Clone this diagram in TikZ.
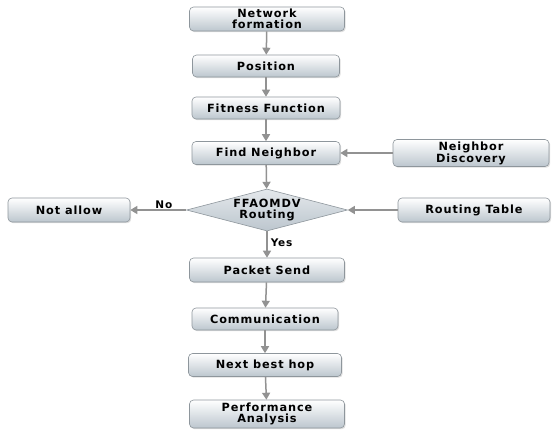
\documentclass[tikz,border=0pt]{standalone}
\usepackage{fontspec}
\setmainfont{DejaVu Sans}
\newfontfamily\boxfont[LetterSpace=8]{DejaVu Sans Bold}
\usetikzlibrary{shapes.geometric,arrows.meta,shadows}
\definecolor{edgegray}{HTML}{929292}
\definecolor{boxtop}{HTML}{FFFFFF}
\definecolor{boxbot}{HTML}{BCC6CE}
\definecolor{boxline}{HTML}{8E969C}
\tikzset{
  stepbox/.style={rectangle, rounded corners=4pt, draw=boxline, line width=0.6pt,
    top color=boxtop, bottom color=boxbot, minimum height=23pt,
    font=\boxfont\fontsize{11.3}{11}\selectfont, align=center, inner sep=1pt,
    drop shadow={shadow xshift=1.2pt, shadow yshift=-1.2pt, opacity=0.25}},
  decbox/.style={diamond, aspect=3.8, draw=boxline, line width=0.6pt,
    top color=boxtop!60!boxbot, bottom color=boxbot, inner sep=0pt,
    font=\boxfont\fontsize{11.3}{11}\selectfont, align=center,
    minimum width=161pt, minimum height=42pt},
  link/.style={draw=edgegray, line width=1.5pt, -{Triangle[length=7pt,width=8pt]}},
  lbl/.style={font=\boxfont\fontsize{10.5}{10}\selectfont, inner sep=1pt}
}
\begin{document}
\begin{tikzpicture}[x=1pt,y=-1pt]
\useasboundingbox (0,0) rectangle (558,434);
\node[stepbox, minimum width=155pt, minimum height=24pt] (nf) at (267,19) {Network\\[0pt]formation};
\node[stepbox, minimum width=147pt, minimum height=22pt] (pos) at (266,66) {Position};
\node[stepbox, minimum width=148pt, minimum height=22pt] (fit) at (266,108) {Fitness Function};
\node[stepbox, minimum width=148pt, minimum height=23pt] (fn) at (266,153) {Find Neighbor};
\node[stepbox, minimum width=156pt, minimum height=27pt] (nd) at (471,153) {Neighbor\\[0pt]Discovery};
\node[decbox] (ff) at (267,210) {FFAOMDV\\[0pt]Routing};
\node[stepbox, minimum width=122pt, minimum height=24pt] (na) at (69,210) {Not allow};
\node[stepbox, minimum width=152pt, minimum height=24pt] (rt) at (474,210) {Routing Table};
\node[stepbox, minimum width=155pt, minimum height=24pt] (ps) at (267,270) {Packet Send};
\node[stepbox, minimum width=146pt, minimum height=22pt] (com) at (265,319) {Communication};
\node[stepbox, minimum width=153pt, minimum height=23pt] (nbh) at (265,365) {Next best hop};
\node[stepbox, minimum width=155pt, minimum height=28pt] (pa) at (267,414) {Performance\\[0pt]Analysis};
\draw[link] (nf) -- (pos);
\draw[link] (pos) -- (fit);
\draw[link] (fit) -- (fn);
\draw[link] (fn) -- (ff);
\draw[link] (nd) -- (fn);
\draw[link] (rt) -- (ff);
\draw[link] (ff) -- node[lbl, above, pos=0.4] {No} (na);
\draw[link] (ff) -- node[lbl, right, pos=0.45, xshift=2pt] {Yes} (ps);
\draw[link] (ps) -- (com);
\draw[link] (com) -- (nbh);
\draw[link] (nbh) -- (pa);
\end{tikzpicture}
\end{document}
